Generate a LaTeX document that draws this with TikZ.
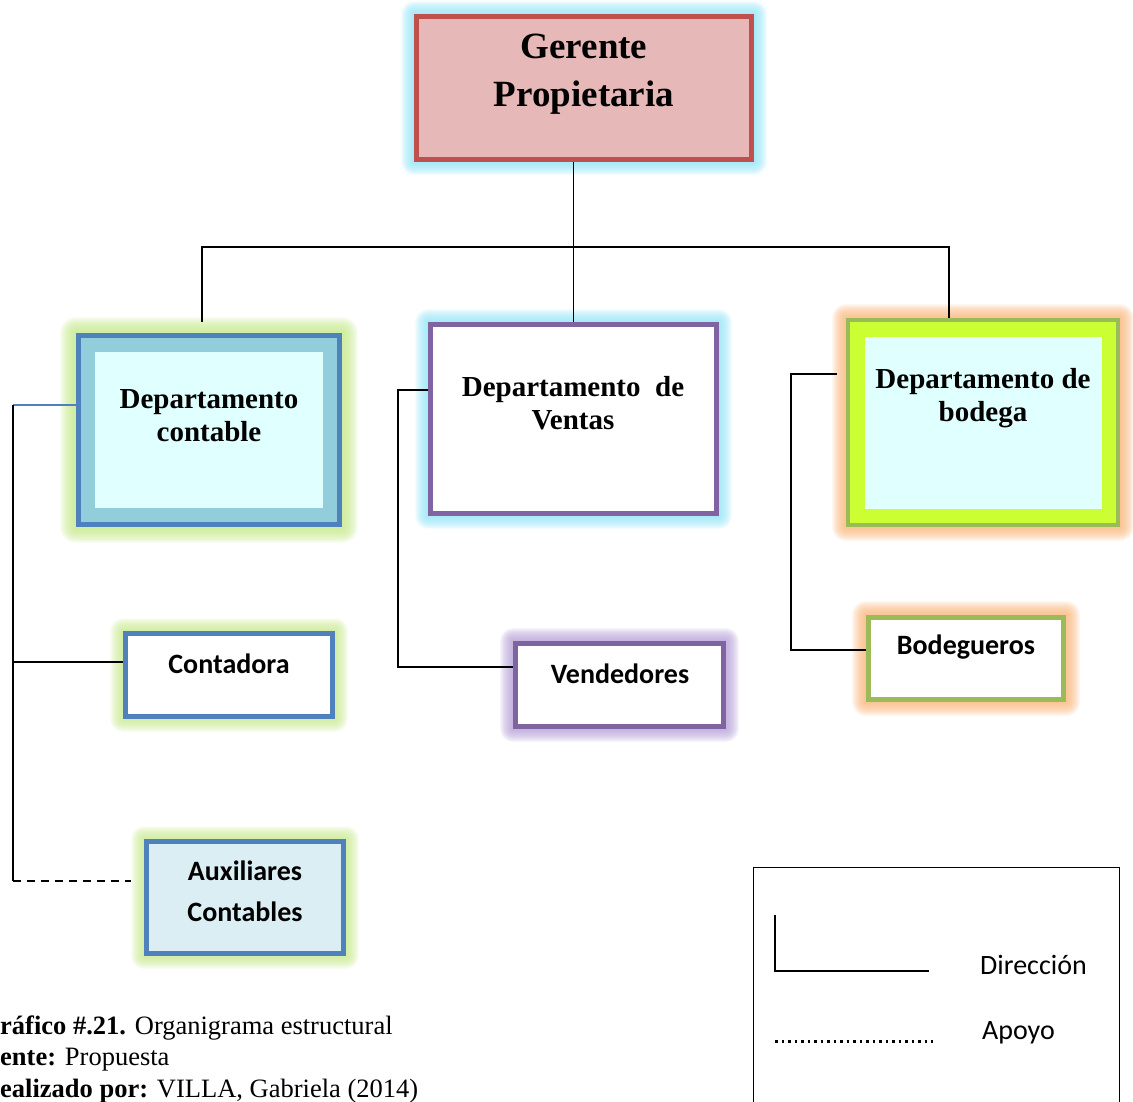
\documentclass[tikz,border=0pt]{standalone}
\usepackage{fontspec}
\setmainfont{Liberation Serif}
\newfontfamily\calibri{Carlito}
\usetikzlibrary{backgrounds}
\definecolor{gerfill}{HTML}{E6B8B7}
\definecolor{gerline}{HTML}{C0504D}
\definecolor{boxblue}{HTML}{4F81BD}
\definecolor{bandblue}{HTML}{92CDDC}
\definecolor{paleaqua}{HTML}{E0FFFF}
\definecolor{boxpurple}{HTML}{8064A2}
\definecolor{olive}{HTML}{9BBB59}
\definecolor{lime}{HTML}{CCFF33}
\definecolor{auxfill}{HTML}{DAEEF3}
\definecolor{glowcyan}{HTML}{8EE3F6}
\definecolor{glowgreen}{HTML}{C6E98C}
\definecolor{gloworange}{HTML}{F9B57A}
\definecolor{glowpurple}{HTML}{B39DD6}

% soft halo behind a box: node, colour, size
\newcommand{\halo}[3]{%
  \begin{scope}[on background layer]
    \foreach \r in {1,...,#3}
      \fill[#2, opacity=0.1, rounded corners=\r pt]
        ([shift={(-\r pt,\r pt)}]#1.north west) rectangle ([shift={(\r pt,-\r pt)}]#1.south east);
  \end{scope}}

\begin{document}
\begin{tikzpicture}[x=1pt, y=-1pt,
        box/.style = {rectangle, line width=5pt, inner sep=0pt},
        inset/.style = {path picture={\fill[#1] ([shift={(16.5pt,-16.5pt)}]path picture bounding box.north west)
            rectangle ([shift={(-16.5pt,16.5pt)}]path picture bounding box.south east);}},
        head/.style = {font=\bfseries\fontsize{29}{33}\selectfont, align=center, inner sep=0pt},
        sub/.style = {font=\calibri\bfseries\fontsize{28}{41}\selectfont, align=center, inner sep=0pt},
        legtext/.style = {font=\calibri\fontsize{28}{33}\selectfont, anchor=west, inner sep=0pt},
        captext/.style = {font=\fontsize{26.5}{31}\selectfont, anchor=base west, inner sep=0pt},
        lnk/.style = {line width=1.6pt}
    ]
    \useasboundingbox (0,0) rectangle (1133,1101);

    \node[box, draw=gerline, fill=gerfill, minimum width=335, minimum height=143] (ger) at (584,88) {};
    \node[box, draw=boxblue, fill=bandblue, inset=paleaqua, minimum width=261, minimum height=189] (cont) at (209,430) {};
    \node[box, draw=boxpurple, fill=white, minimum width=286, minimum height=189] (ven) at (573.5,419) {};
    \node[box, draw=olive, line width=4pt, fill=lime, inset=paleaqua, minimum width=270, minimum height=205] (bod) at (983,422.5) {};
    \node[box, draw=boxblue, fill=white, minimum width=207, minimum height=83] (cnt) at (229,675) {};
    \node[box, draw=boxpurple, fill=white, minimum width=208, minimum height=83] (vnd) at (619.5,685) {};
    \node[box, draw=olive, fill=white, minimum width=195, minimum height=82] (bdg) at (966,658.5) {};
    \node[box, draw=boxblue, fill=auxfill, minimum width=197, minimum height=112] (aux) at (245,897.5) {};

    \halo{ger}{glowcyan}{13}
    \halo{cont}{glowgreen}{16}
    \halo{ven}{glowcyan}{13}
    \halo{bod}{gloworange}{14}
    \halo{cnt}{glowgreen}{13}
    \halo{vnd}{glowpurple}{13}
    \halo{bdg}{gloworange}{14}
    \halo{aux}{glowgreen}{13}

    \node[head, font=\bfseries\fontsize{37}{48}\selectfont] (ger-t) at (584,74) {Gerente\\Propietaria};
    \node[head] (cont-t) at (209,415.5) {Departamento\\contable};
    \node[head] (ven-t) at (573,403.5) {Departamento\ \ de\\Ventas};
    \node[head] (bod-t) at (983,398.5) {Departamento de\\bodega};
    \node[sub] (cnt-t) at (229,664) {Contadora};
    \node[sub] (vnd-t) at (620,674) {Vendedores};
    \node[sub] (bdg-t) at (966,647) {Bodegueros};
    \node[sub] (aux-t) at (245,891.5) {Auxiliares\\Contables};

    % top level
    \coordinate (bus) at (573,247);
    \draw[lnk] (ven.north |- ger.south) -- (ven.north);
    \draw[lnk] ([xshift=-7pt,yshift=11pt]cont.north) |- (bus) -| ([xshift=-34pt]bod.north);

    % contable
    \coordinate (cl) at (13,405);
    \coordinate (cl1) at (13,662);
    \coordinate (cl2) at (13,881);
    \coordinate (cl2e) at (131,881);
    \draw[lnk, boxblue] (cl -| cont.west) -- (cl);
    \draw[lnk] (cl) -- (cl2);
    \draw[lnk] (cl1) -- (cl1 -| cnt.west);
    \draw[lnk, dash pattern=on 8pt off 6pt] (cl2) -- (cl2e);

    % ventas
    \coordinate (vl) at (398,390);
    \coordinate (vl1) at (398,667);
    \draw[lnk] (vl -| ven.west) -- (vl) -- (vl1) -- (vl1 -| vnd.west);

    % bodega
    \coordinate (bl) at (791,374);
    \coordinate (bl1) at (791,650);
    \coordinate (ble) at (837,374);
    \draw[lnk] (ble) -- (bl) -- (bl1) -- (bl1 -| bdg.west);

    % legend
    \node[draw, line width=1.3pt, minimum width=366, minimum height=300, anchor=north west] (leg) at (753,867) {};
    \draw[lnk] (775,915) -- (775,971) -- (929,971);
    \draw[line width=3pt, dash pattern=on 2.5pt off 4pt] (775,1041) -- (933,1041);
    \node[legtext] (dir) at (980,965) {Dirección};
    \node[legtext] (apo) at (982,1033) {Apoyo};

    % caption
    \node[captext] (cap1) at (0,1034) {\textbf{ráfico \#.21.} Organigrama estructural};
    \node[captext] (cap2) at (0,1065.5) {\textbf{ente:} Propuesta};
    \node[captext] (cap3) at (0,1097) {\textbf{ealizado por:} VILLA, Gabriela (2014)};
\end{tikzpicture}
\end{document}
